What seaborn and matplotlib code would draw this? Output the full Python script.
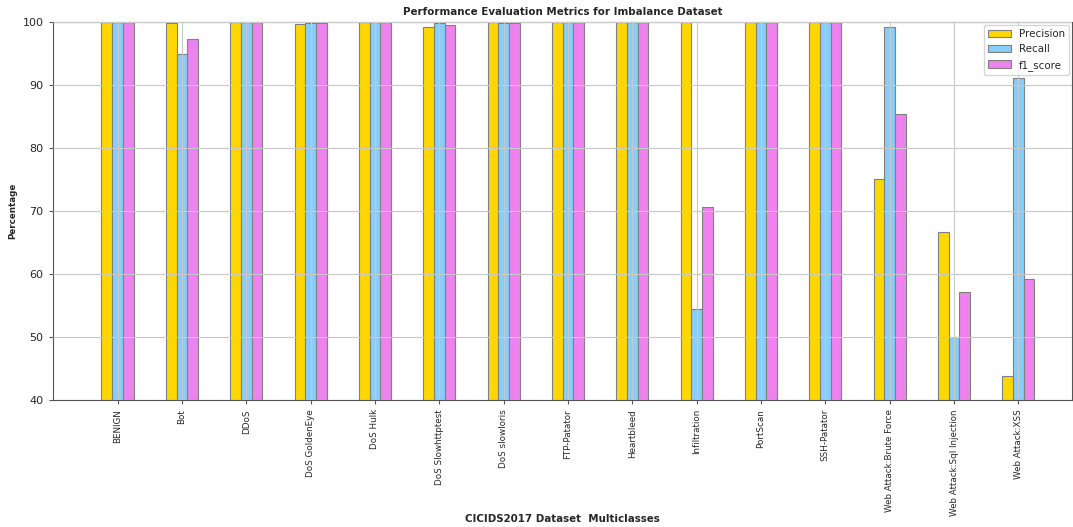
import matplotlib
matplotlib.use("Agg")
import matplotlib.pyplot as plt
import seaborn as sns
import pandas as pd

classes = ["BENIGN", "Bot", "DDoS", "DoS GoldenEye", "DoS Hulk", "DoS Slowhttptest",
           "DoS slowloris", "FTP-Patator", "Heartbleed", "Infiltration", "PortScan",
           "SSH-Patator", "Web Attack:Brute Force", "Web Attack:Sql Injection", "Web Attack:XSS"]
precision = [99.95, 99.9, 99.95, 99.7, 99.95, 99.2, 99.95, 100, 100, 100, 99.95, 100, 75.1, 66.7, 43.8]
recall = [99.95, 95.0, 99.95, 99.9, 99.95, 99.9, 99.9, 100, 100, 54.5, 99.95, 99.95, 99.2, 50.0, 91.1]
f1_score = [99.95, 97.4, 99.95, 99.8, 99.95, 99.5, 99.9, 100, 100, 70.6, 99.95, 99.95, 85.4, 57.1, 59.2]
metrics = ["Precision", "Recall", "f1_score"]
colors = ["gold", "lightskyblue", "violet"]

rows = []
for m, vals in zip(metrics, [precision, recall, f1_score]):
    for c, v in zip(classes, vals):
        rows.append({"Class": c, "Metric": m, "Value": v})
df = pd.DataFrame(rows)

sns.set_style("white")
plt.rcParams['font.family'] = ['DejaVu Sans']
fig, ax = plt.subplots(figsize=(10.73, 5.27), dpi=100)
fig.subplots_adjust(left=0.049, right=0.9995, top=0.958, bottom=0.241)

sns.barplot(data=df, x="Class", y="Value", hue="Metric", order=classes, hue_order=metrics,
            palette=colors, width=0.5, gap=0, edgecolor="grey", linewidth=0.8, ax=ax,
            errorbar=None, saturation=1)

ax.set_xlim(-1.01, 14.84)
ax.set_ylim(40, 100)
ax.set_yticks([40, 50, 60, 70, 80, 90, 100])
ax.grid(True, color="#c8c8c8", linewidth=0.8)
ax.set_axisbelow(False)
for s in ["top", "left", "bottom", "right"]:
    ax.spines[s].set_color("#555555")
    ax.spines[s].set_linewidth(0.8)
ax.tick_params(axis="x", rotation=90, labelsize=6.3, length=3, color="#555555")
ax.tick_params(axis="y", labelsize=8, length=3, left=True, color="#555555")
ax.tick_params(axis="x", bottom=True)
ax.set_title("Performance Evaluation Metrics for Imbalance Dataset", fontsize=7.4, fontweight="bold", pad=5)
ax.set_ylabel("Percentage", fontsize=6.3, fontweight="bold")
ax.yaxis.set_label_coords(-0.035, 0.5)
ax.set_xlabel("CICIDS2017 Dataset  Multiclasses", fontsize=7.4, fontweight="bold")
ax.xaxis.set_label_coords(0.5, -0.302)
ax.legend(loc="upper right", fontsize=7.4, frameon=True, framealpha=0.8,
          borderaxespad=0.3, handlelength=2.2)
fig.savefig("out.png", dpi=100)
